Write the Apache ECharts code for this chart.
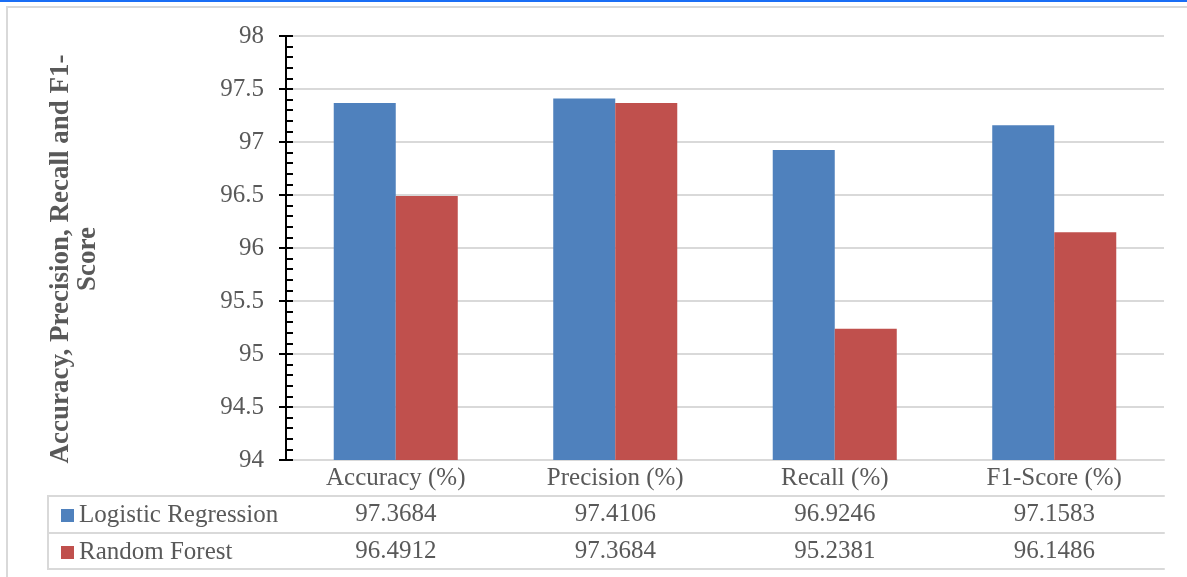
<!DOCTYPE html>
<html>
<head>
<meta charset="utf-8">
<script src="https://cdn.jsdelivr.net/npm/echarts@6/dist/echarts.min.js"></script>
<style>
  html, body { margin: 0; padding: 0; background: #fff; }
  #main { width: 1187px; height: 577px; }
</style>
</head>
<body>
<div id="main"></div>
<script>
var categories = ['Accuracy (%)', 'Precision (%)', 'Recall (%)', 'F1-Score (%)'];
var seriesNames = ['Logistic Regression', 'Random Forest'];
var logisticValues = [97.3684, 97.4106, 96.9246, 97.1583];
var forestValues = [96.4912, 97.3684, 95.2381, 96.1486];
var yTicks = [94, 94.5, 95, 95.5, 96, 96.5, 97, 97.5, 98];

var textColor = '#595959';
var lineGray = '#D9D9D9';
var serif = '"Liberation Serif", "DejaVu Serif", serif';

function fmt(v) { return v.toFixed(4); }

var myChart = echarts.init(document.getElementById('main'));

// table rows sit under the plot as extra category axes
function tableAxis(values, offset) {
    return {
        type: 'category',
        gridIndex: 0,
        position: 'bottom',
        offset: offset,
        data: values,
        axisLine: { lineStyle: { color: lineGray, width: 2 } },
        axisTick: { length: 37, lineStyle: { color: lineGray, width: 2 } },
        axisLabel: {
            interval: 0,
            margin: 6,
            color: textColor,
            fontFamily: serif,
            fontSize: 25
        }
    };
}

var option = {
    animation: false,
    grid: { left: 286, right: 23, top: 36, bottom: 117 },
    legend: {
        orient: 'vertical',
        left: 56,
        top: 498,
        itemWidth: 13,
        itemHeight: 13,
        itemGap: 12,
        icon: 'rect',
        data: seriesNames,
        textStyle: { color: textColor, fontFamily: serif, fontSize: 25, lineHeight: 25 }
    },
    xAxis: [
        {
            type: 'category',
            data: categories,
            axisLine: { lineStyle: { color: lineGray, width: 2 } },
            axisTick: { length: 36, lineStyle: { color: lineGray, width: 2 } },
            axisLabel: { interval: 0, margin: 6, color: textColor, fontFamily: serif, fontSize: 25 }
        },
        tableAxis(logisticValues.map(fmt), 36),
        tableAxis(forestValues.map(fmt), 73),
        {
            type: 'category',
            position: 'bottom',
            offset: 109,
            data: categories,
            axisLine: { lineStyle: { color: lineGray, width: 2 } },
            axisTick: { show: false },
            axisLabel: { show: false }
        }
    ],
    yAxis: [
        {
            type: 'value',
            min: yTicks[0],
            max: yTicks[yTicks.length - 1],
            interval: 0.5,
            name: 'Accuracy, Precision, Recall and F1-\nScore',
            nameLocation: 'middle',
            nameGap: 184,
            nameTextStyle: {
                color: textColor,
                fontFamily: serif,
                fontWeight: 'bold',
                fontSize: 27,
                lineHeight: 27,
                padding: [0, 22, 0, 0]
            },
            axisLine: { show: true, lineStyle: { color: '#000', width: 2 } },
            axisTick: { show: true, length: 7, lineStyle: { color: '#000', width: 2 } },
            axisLabel: { margin: 22, color: textColor, fontFamily: serif, fontSize: 25 },
            splitLine: { lineStyle: { color: lineGray, width: 2 } }
        },
        {
            type: 'value',
            position: 'left',
            min: yTicks[0],
            max: yTicks[yTicks.length - 1],
            interval: 0.5,
            axisLine: { show: false },
            axisTick: { show: true, inside: true, length: 7, lineStyle: { color: '#000', width: 2 } },
            minorTick: { show: true, splitNumber: 5, length: 7, lineStyle: { color: '#000', width: 2 } },
            axisLabel: { show: false },
            splitLine: { show: false }
        }
    ],
    series: [
        {
            name: seriesNames[0],
            type: 'bar',
            data: logisticValues,
            barGap: '0%',
            barCategoryGap: '43.5%',
            itemStyle: { color: '#4F81BD' }
        },
        {
            name: seriesNames[1],
            type: 'bar',
            data: forestValues,
            barGap: '0%',
            barCategoryGap: '43.5%',
            itemStyle: { color: '#C0504D' }
        }
    ],
    graphic: [
        { type: 'rect', shape: { x: 0, y: 0, width: 1187, height: 2 }, style: { fill: '#1a6ef5' } },
        { type: 'rect', shape: { x: 7, y: 7, width: 1200, height: 600 }, style: { fill: 'none', stroke: lineGray, lineWidth: 2 } },
        // left column of the data table
        { type: 'line', shape: { x1: 48, y1: 496, x2: 286, y2: 496 }, style: { stroke: lineGray, lineWidth: 2 } },
        { type: 'line', shape: { x1: 48, y1: 533, x2: 286, y2: 533 }, style: { stroke: lineGray, lineWidth: 2 } },
        { type: 'line', shape: { x1: 48, y1: 569, x2: 286, y2: 569 }, style: { stroke: lineGray, lineWidth: 2 } },
        { type: 'line', shape: { x1: 48, y1: 495, x2: 48, y2: 570 }, style: { stroke: lineGray, lineWidth: 2 } }
    ]
};
myChart.setOption(option);
</script>
</body>
</html>
